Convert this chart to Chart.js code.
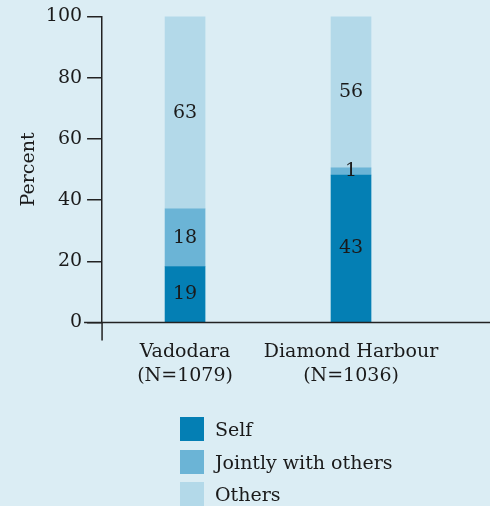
<!DOCTYPE html>
<html>
<head>
<meta charset="utf-8">
<script src="https://cdn.jsdelivr.net/npm/chart.js@4"></script>
<style>
  html, body { margin: 0; padding: 0; background: #dbedf4; }
  #wrap { position: relative; width: 490px; height: 506px; }
  #legend { position: absolute; left: 180px; top: 413px; font-family: "DejaVu Serif", serif; font-size: 19px; color: #1a1a1a; }
  #legend .row { display: flex; align-items: center; height: 32.5px; }
  #legend .box { width: 24px; height: 24px; margin-right: 11px; }
</style>
</head>
<body>
<div id="wrap">
  <canvas id="chart" width="490" height="506"></canvas>
  <div id="legend"></div>
</div>
<script>
const categories = [['Vadodara', '(N=1079)'], ['Diamond Harbour', '(N=1036)']];
const seriesNames = ['Self', 'Jointly with others', 'Others'];
// bar heights as drawn in the picture
const selfValues = [18.3, 48.2];
const jointValues = [18.8, 2.3];
const othersValues = [62.9, 49.5];
// numbers printed on the bars
const selfLabels = ['19', '43'];
const jointLabels = ['18', '1'];
const othersLabels = ['63', '56'];
const yTicks = [0, 20, 40, 60, 80, 100];

const colors = ['#047fb4', '#6bb4d6', '#b3d9e9'];
const axisColor = '#222';
const fontFamily = '"DejaVu Serif", serif';

const barLabelPlugin = {
    id: 'barLabels',
    afterDatasetsDraw(chart) {
        const ctx = chart.ctx;
        ctx.save();
        ctx.font = '19px ' + fontFamily;
        ctx.fillStyle = '#1a1a1a';
        ctx.textAlign = 'center';
        ctx.textBaseline = 'middle';
        chart.data.datasets.forEach((ds, i) => {
            chart.getDatasetMeta(i).data.forEach((bar, j) => {
                ctx.fillText(ds.valueLabels[j], bar.x, (bar.y + bar.base) / 2);
            });
        });
        ctx.restore();
    }
};

// axis lines run past the plot: x line to both sides, y line below zero
const axisLinePlugin = {
    id: 'axisLines',
    afterDraw(chart) {
        const ctx = chart.ctx;
        const area = chart.chartArea;
        const y = chart.scales.y.getPixelForValue(0);
        ctx.save();
        ctx.strokeStyle = axisColor;
        ctx.lineWidth = 1.5;
        ctx.beginPath();
        ctx.moveTo(area.left - 18, y);
        ctx.lineTo(chart.width, y);
        ctx.moveTo(area.left, y);
        ctx.lineTo(area.left, y + 18);
        ctx.stroke();
        ctx.restore();
    }
};

const chart = new Chart(document.getElementById('chart').getContext('2d'), {
    type: 'bar',
    data: {
        labels: categories,
        datasets: [
            { label: seriesNames[0], data: selfValues, valueLabels: selfLabels, backgroundColor: colors[0] },
            { label: seriesNames[1], data: jointValues, valueLabels: jointLabels, backgroundColor: colors[1] },
            { label: seriesNames[2], data: othersValues, valueLabels: othersLabels, backgroundColor: colors[2] }
        ]
    },
    options: {
        responsive: false,
        animation: false,
        barThickness: 40,
        layout: { padding: { left: 18, right: 56, top: 5, bottom: 118 } },
        plugins: {
            legend: { display: false },
            tooltip: { enabled: false }
        },
        scales: {
            x: {
                stacked: true,
                border: { display: false },
                grid: {
                    drawOnChartArea: false,
                    tickLength: 18,
                    color: 'rgba(0,0,0,0)'
                },
                ticks: {
                    padding: 0,
                    autoSkip: false,
                    color: '#1a1a1a',
                    maxRotation: 0,
                    font: { family: fontFamily, size: 19, lineHeight: 1.25 }
                }
            },
            y: {
                stacked: true,
                min: 0,
                max: 100,
                afterBuildTicks: (scale) => { scale.ticks = yTicks.map(v => ({ value: v })); },
                border: { display: true, color: axisColor, width: 1.5 },
                grid: { drawOnChartArea: false, tickLength: 15, color: axisColor, lineWidth: 1.5 },
                ticks: {
                    padding: 5,
                    color: '#1a1a1a',
                    font: { family: fontFamily, size: 19 }
                },
                title: {
                    display: true,
                    text: 'Percent',
                    color: '#1a1a1a',
                    padding: { top: 0, bottom: 0 },
                    font: { family: fontFamily, size: 19 }
                }
            }
        }
    },
    plugins: [barLabelPlugin, axisLinePlugin]
});

const legendEl = document.getElementById('legend');
chart.data.datasets.forEach((ds) => {
    const row = document.createElement('div');
    row.className = 'row';
    const box = document.createElement('span');
    box.className = 'box';
    box.style.background = ds.backgroundColor;
    const text = document.createElement('span');
    text.textContent = ds.label;
    row.appendChild(box);
    row.appendChild(text);
    legendEl.appendChild(row);
});
</script>
</body>
</html>
